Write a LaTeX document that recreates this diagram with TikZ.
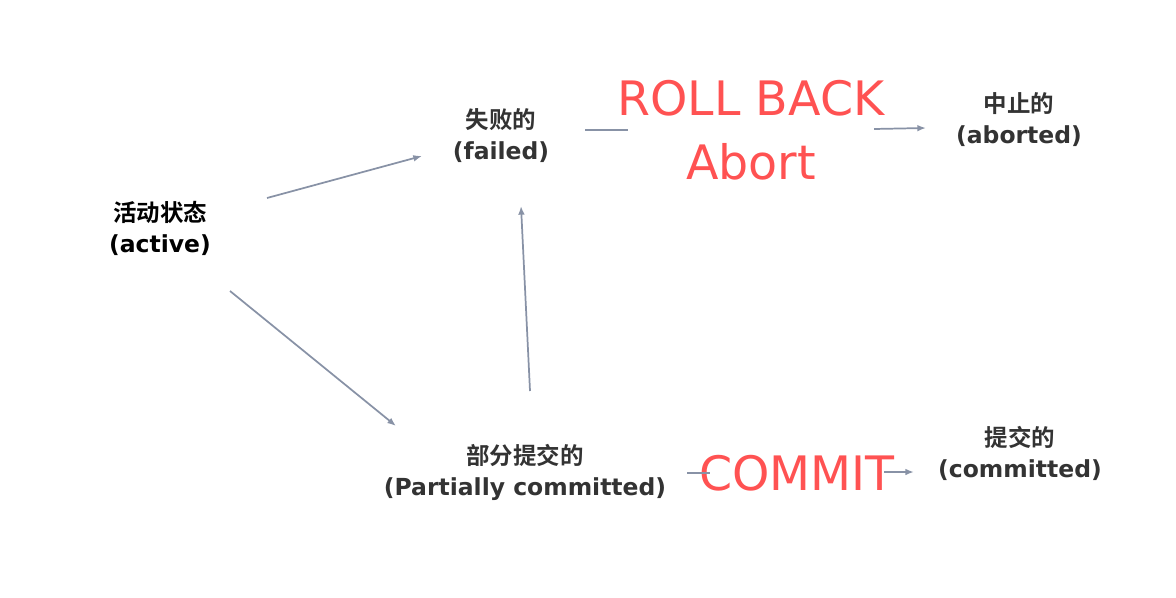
\documentclass[tikz,border=0pt]{standalone}
\usepackage{fontspec}
\setmainfont{DejaVu Sans}
\newfontfamily\cjk{Noto Sans CJK SC}[BoldFont={Noto Sans CJK SC Bold}]
\usetikzlibrary{arrows.meta,positioning,calc}
\definecolor{linkgray}{HTML}{8892A6}
\definecolor{verbred}{HTML}{FF5252}
\definecolor{labelgray}{HTML}{333333}

\begin{document}
\begin{tikzpicture}[
  x=0.75pt, y=-0.75pt,
  state/.style={align=center, inner sep=0pt, text=labelgray, font=\fontsize{17.6}{23.3}\selectfont\bfseries},
  verb/.style={align=center, inner sep=0pt, text=verbred, font=\fontsize{35.6}{48}\selectfont},
  link/.style={draw=linkgray, line width=1.3pt},
  flow/.style={link, -{Latex[length=6.5pt,width=5pt]}},
]
\useasboundingbox (0,0) rectangle (1176,598);

% states of a transaction
\node[state, text=black] (active) at (160,228.5) {{\cjk 活动状态}\\(active)};
\node[state] (failed) at (501,135.5) {{\cjk 失败的}\\(failed)};
\node[state] (partial) at (525,472.5) {{\cjk 部分提交的}\\(Partially committed)};
\node[state] (aborted) at (1019,119.5) {{\cjk 中止的}\\(aborted)};
\node[state] (committed) at (1020,453.5) {{\cjk 提交的}\\(committed)};

% what happens on the way out
\node[verb] (rollback) at (751,130) {ROLL BACK\\Abort};
\node[verb] (commit) at (797,473) {COMMIT};

% connectors -- the gaps round the labels are kept by shifting off the centres
\draw[flow] ([shift={(107,-30.5)}]active.center) -- ([shift={(-79,20.5)}]failed.center);
\draw[flow] ([shift={(70,62.5)}]active.center) -- ([shift={(-129,-46.5)}]partial.center);
\draw[flow] ([shift={(5,-81.5)}]partial.center) -- ([shift={(20,70.5)}]failed.center);
\draw[link] ([shift={(84,-5.5)}]failed.center) -- ([shift={(-123,0)}]rollback.center);
\draw[flow] ([shift={(123,-1)}]rollback.center) -- ([shift={(-93,8.5)}]aborted.center);
\draw[link] ([shift={(162,0.5)}]partial.center) -- ([shift={(-87,0)}]commit.center);
\draw[flow] ([shift={(87,-1)}]commit.center) -- ([shift={(-106,18.5)}]committed.center);

\end{tikzpicture}
\end{document}
